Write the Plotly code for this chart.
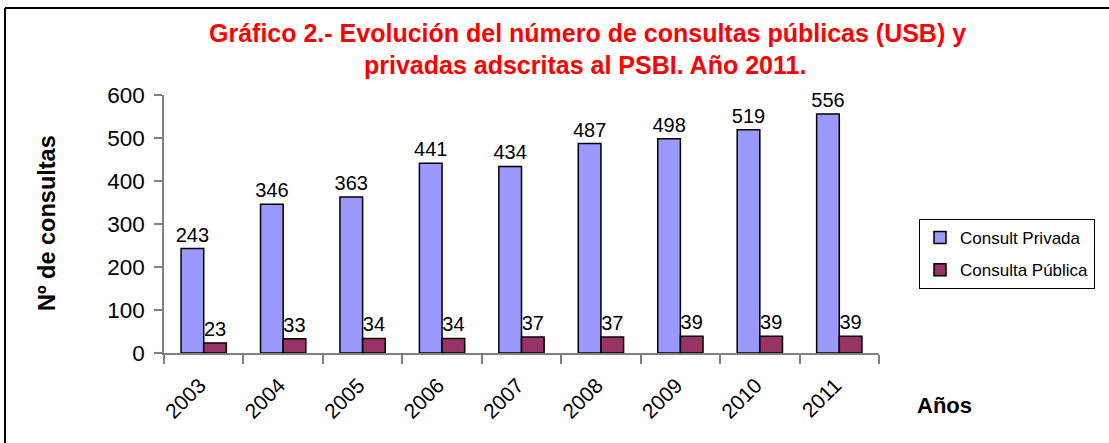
import plotly.graph_objects as go

years = ["2003", "2004", "2005", "2006", "2007", "2008", "2009", "2010", "2011"]
privada = [243, 346, 363, 441, 434, 487, 498, 519, 556]
publica = [23, 33, 34, 34, 37, 37, 39, 39, 39]

title_line1 = "Gráfico 2.- Evolución del número de consultas públicas (USB) y"
title_line2 = "privadas adscritas al PSBI. Año 2011."

W, H = 1109, 443
L, R, T, B = 164, 230, 95, 90
pw, ph = W - L - R, H - T - B

def px(x):
    return (x - L) / pw

def py(y):
    return (H - B - y) / ph

FONT = "Liberation Sans, Arial, sans-serif"

fig = go.Figure()
fig.add_trace(go.Bar(
    x=years, y=privada, name="Consult Privada",
    marker=dict(color="#9999FF", line=dict(color="#000000", width=1.5)),
    text=privada, textposition="outside", cliponaxis=False, constraintext="none",
    textfont=dict(size=20, color="#000000", family=FONT),
    legendgroup="a",
))
fig.add_trace(go.Bar(
    x=years, y=publica, name="Consulta Pública",
    marker=dict(color="#993366", line=dict(color="#000000", width=1.5)),
    text=publica, textposition="outside", cliponaxis=False, constraintext="none",
    textfont=dict(size=20, color="#000000", family=FONT),
    legendgroup="b",
))

fig.update_layout(
    width=W, height=H,
    margin=dict(l=L, r=R, t=T, b=B),
    paper_bgcolor="white", plot_bgcolor="white",
    font=dict(family=FONT, color="#000000"),
    barmode="group", bargap=0.43, bargroupgap=0,
    showlegend=True,
    legend=dict(
        x=px(1095), y=py(219), xanchor="right", yanchor="top",
        bordercolor="#000000", borderwidth=1, bgcolor="white",
        font=dict(size=17, family=FONT),
        traceorder="grouped", tracegroupgap=7,
    ),
    xaxis=dict(
        type="category", showgrid=False, showline=True, linecolor="#808080", linewidth=1.5,
        ticks="outside", tickson="boundaries", ticklen=9, tickcolor="#808080", tickwidth=1.5,
        tickangle=-45, tickfont=dict(size=21, family=FONT),
        ticklabelstandoff=10, ticklabelshift=-4,
    ),
    yaxis=dict(
        range=[0, 600], dtick=100, showgrid=False, showline=True, linecolor="#808080", linewidth=1.5,
        ticks="outside", ticklen=8, tickcolor="#808080", tickwidth=1.5,
        tickfont=dict(size=22.5, family=FONT), zeroline=False,
        ticklabelstandoff=5,
    ),
    annotations=[
        dict(text="<b>" + title_line1 + "</b>", x=px(587), y=py(33), xref="paper", yref="paper",
             showarrow=False, xanchor="center", yanchor="middle",
             font=dict(size=25, color="#FF0000", family=FONT)),
        dict(text="<b>" + title_line2 + "</b>", x=px(585), y=py(65), xref="paper", yref="paper",
             showarrow=False, xanchor="center", yanchor="middle",
             font=dict(size=25, color="#FF0000", family=FONT)),
        dict(text="<b>Nº de consultas</b>", x=px(47), y=py(223), xref="paper", yref="paper",
             showarrow=False, textangle=-90, xanchor="center", yanchor="middle",
             font=dict(size=23.5, family=FONT)),
        dict(text="<b>Años</b>", x=px(945), y=py(405), xref="paper", yref="paper",
             showarrow=False, xanchor="center", yanchor="middle",
             font=dict(size=22, family=FONT)),
    ],
    shapes=[
        dict(type="line", xref="paper", yref="paper", x0=px(5), x1=px(W), y0=py(8), y1=py(8),
             line=dict(color="#000000", width=2)),
        dict(type="line", xref="paper", yref="paper", x0=px(5), x1=px(5), y0=py(8), y1=py(H),
             line=dict(color="#000000", width=2)),
    ],
)

fig.write_html(
    "out.html",
    config={"displayModeBar": False},
    post_script="document.body.style.margin='0px';document.body.style.overflow='hidden';",
)
